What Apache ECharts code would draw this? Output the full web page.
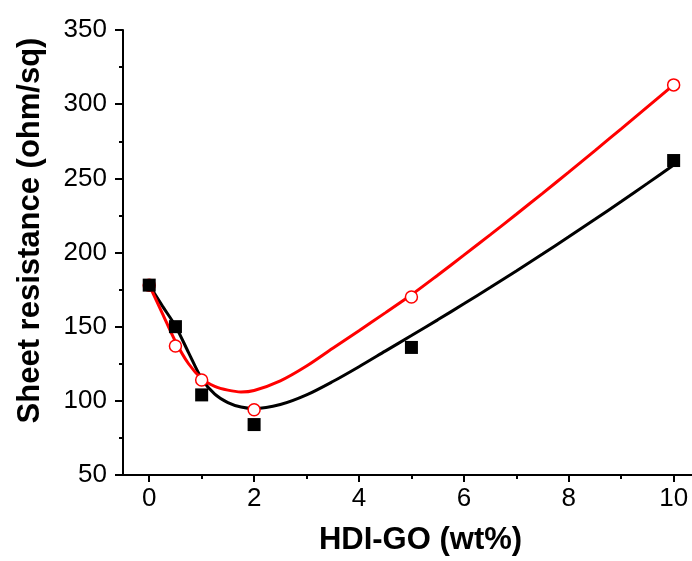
<!DOCTYPE html>
<html>
<head>
<meta charset="utf-8">
<script src="https://cdn.jsdelivr.net/npm/echarts@6/dist/echarts.min.js"></script>
<style>html,body{margin:0;padding:0;background:#fff}#c{width:692px;height:561px}</style>
</head>
<body>
<div id="c"></div>
<script>
// measured points
var xPts = [0, 0.5, 1, 2, 5, 10];
var blackY = [178, 150, 104, 84, 136, 262];
var redY = [178, 137, 114, 94, 170, 313];

// fitted curves
var fitX = [0, 0.25, 0.5, 0.75, 1.0, 1.25, 1.5, 1.75, 2.0, 2.5, 3.0, 3.5, 4.0, 4.5, 5.0, 5.5, 6.0, 6.5, 7.0, 7.5, 8.0, 8.5, 9.0, 9.5, 10];
var blackFitY = [178, 164, 150.5, 132.5, 115, 104.5, 98.8, 95.8, 94.8, 97.5, 104, 113, 123, 133.5, 144, 154.6, 165.4, 176.4, 187.6, 199, 210.6, 222.4, 234.4, 246.6, 259];
var redFitY = [178, 159, 140, 125, 115, 109.8, 107.2, 106, 107, 113.5, 123.5, 135.5, 147.3, 159.3, 171.5, 184.7, 198.2, 211.9, 225.8, 239.9, 254.2, 268.7, 283.4, 298.2, 313];

// axis ticks
var xMajorTicks = [0, 2, 4, 6, 8, 10];
var xMinorTicks = [1, 3, 5, 7, 9];

function zip(a, b) { return a.map(function (v, i) { return [v, b[i]]; }); }

var axisColor = '#000';
var labelFont = 'Liberation Sans, Arial, sans-serif';

var chart = echarts.init(document.getElementById('c'), null, {renderer: 'canvas'});
chart.setOption({
  animation: false,
  backgroundColor: '#fff',
  grid: {left: 123, right: 0, top: 30, bottom: 86, containLabel: false},
  xAxis: [{
    type: 'value', min: -0.5, max: 10.35, position: 'bottom',
    name: 'HDI-GO (wt%)', nameLocation: 'middle', nameGap: 50,
    nameTextStyle: {fontSize: 31, fontWeight: 'bold', color: '#000', fontFamily: labelFont, padding: [0, 0, 0, 26]},
    axisLine: {show: true, onZero: false, lineStyle: {color: axisColor, width: 2}},
    axisTick: {show: true, customValues: xMajorTicks, length: 7, lineStyle: {color: axisColor, width: 2}},
    axisLabel: {customValues: xMajorTicks, fontSize: 26, color: '#000', fontFamily: labelFont, margin: 11},
    splitLine: {show: false}
  }, {
    type: 'value', min: -0.5, max: 10.35, position: 'bottom',
    axisLine: {show: false},
    axisTick: {show: true, customValues: xMinorTicks, length: 4, lineStyle: {color: axisColor, width: 2}},
    axisLabel: {show: false},
    splitLine: {show: false}
  }],
  yAxis: {
    type: 'value', min: 50, max: 350, interval: 50,
    name: 'Sheet resistance (ohm/sq)', nameLocation: 'middle', nameGap: 77,
    nameTextStyle: {fontSize: 31, fontWeight: 'bold', color: '#000', fontFamily: labelFont, padding: [0, 0, 0, 44]},
    axisLine: {show: true, onZero: false, lineStyle: {color: axisColor, width: 2}},
    axisTick: {show: true, length: 8, lineStyle: {color: axisColor, width: 2}},
    minorTick: {show: true, splitNumber: 2, length: 4, lineStyle: {color: axisColor, width: 2}},
    axisLabel: {fontSize: 26, color: '#000', fontFamily: labelFont, margin: 16},
    splitLine: {show: false}
  },
  series: [{
    type: 'line', name: 'black fit', data: zip(fitX, blackFitY), smooth: 0.3,
    showSymbol: false, symbol: 'none', lineStyle: {color: '#000', width: 3}, z: 2
  }, {
    type: 'line', name: 'red fit', data: zip(fitX, redFitY), smooth: 0.3,
    showSymbol: false, symbol: 'none', lineStyle: {color: '#ff0000', width: 3}, z: 2
  }, {
    type: 'scatter', name: 'red', data: zip(xPts, redY), symbol: 'circle', symbolSize: 12,
    itemStyle: {color: '#fff', borderColor: '#ff0000', borderWidth: 1.5, opacity: 1}, z: 3
  }, {
    type: 'scatter', name: 'black', data: zip(xPts, blackY), symbol: 'rect', symbolSize: 13,
    itemStyle: {color: '#000', opacity: 1}, z: 4
  }]
});
</script>
</body>
</html>
